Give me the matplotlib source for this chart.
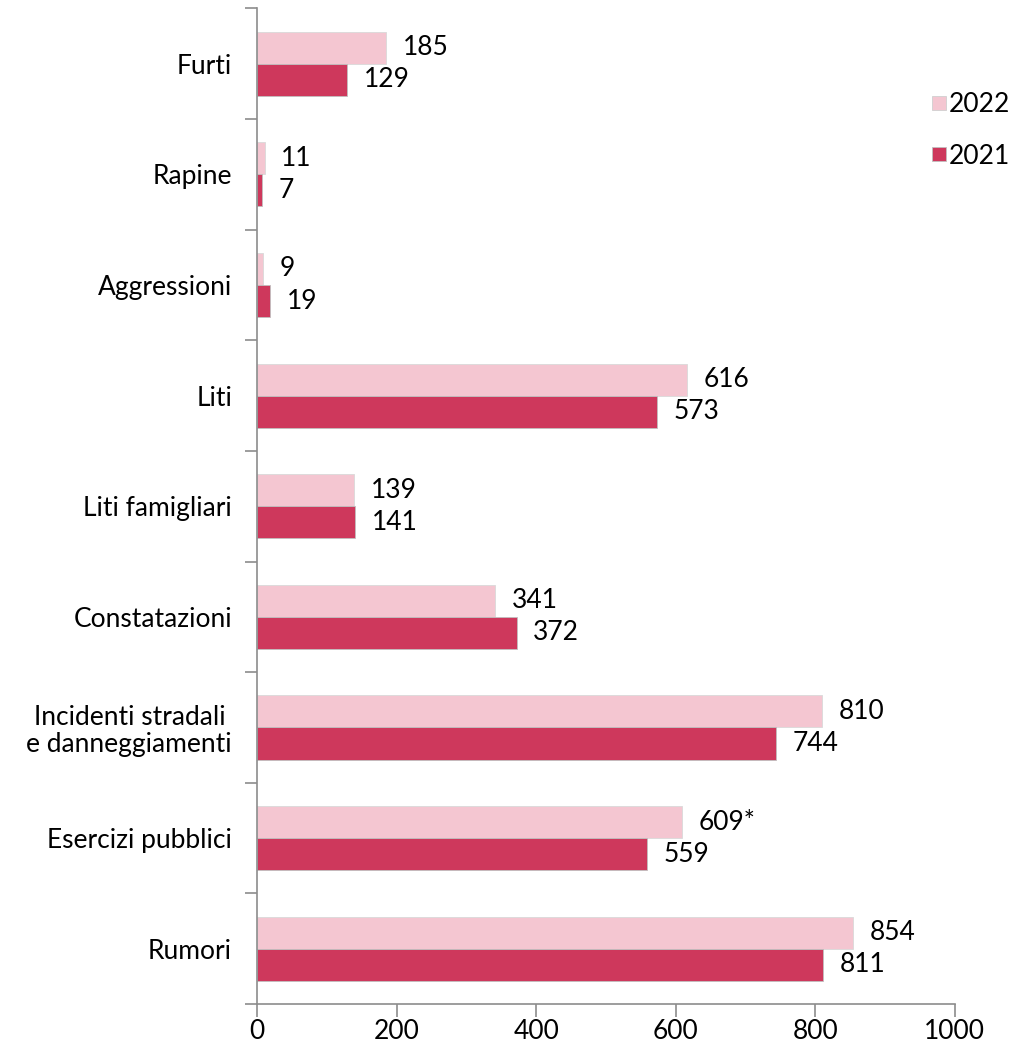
import matplotlib
matplotlib.use("Agg")
import matplotlib.pyplot as plt
import numpy as np
from matplotlib.lines import Line2D

categories = ["Furti", "Rapine", "Aggressioni", "Liti", "Liti famigliari",
              "Constatazioni", "Incidenti stradali \ne danneggiamenti",
              "Esercizi pubblici", "Rumori"]
v2022 = [185, 11, 9, 616, 139, 341, 810, 609, 854]
v2021 = [129, 7, 19, 573, 141, 372, 744, 559, 811]
labels2022 = ["185", "11", "9", "616", "139", "341", "810", "609*", "854"]
labels2021 = [str(v) for v in v2021]
xticks = [0, 200, 400, 600, 800, 1000]

c22 = "#F4C6D1"
c21 = "#CE385C"
gray = "#8C8C8C"
FS = 19

plt.rcParams['font.family'] = ['Lato', 'DejaVu Sans']
fig = plt.figure(figsize=(10.18, 10.47), dpi=100)
ax = fig.add_axes([0.2525, 0.041, 0.6855, 0.951])

n = len(categories)
y = np.arange(n)
h = 0.29
ax.barh(y - h/2, v2022, height=h, color=c22, edgecolor="#d9d9d9", linewidth=0.6)
ax.barh(y + h/2, v2021, height=h, color=c21, edgecolor="#c0c0c0", linewidth=0.6)

for i in range(n):
    ax.annotate(labels2022[i], (v2022[i], y[i] - h/2), xytext=(12, 0),
                textcoords="offset points", va="center", ha="left", fontsize=FS)
    ax.annotate(labels2021[i], (v2021[i], y[i] + h/2), xytext=(12, 0),
                textcoords="offset points", va="center", ha="left", fontsize=FS)

ax.set_ylim(n - 0.5, -0.5)
ax.set_xlim(0, 1000)
ax.set_yticks(y)
ax.set_yticklabels(categories, fontsize=FS, linespacing=1.1)
ax.set_yticks(np.arange(-0.5, n, 1), minor=True)
ax.tick_params(axis="y", which="major", length=0, pad=18)
ax.tick_params(axis="y", which="minor", length=9, color=gray, width=1.2, direction="out")
ax.set_xticks(xticks)
ax.set_xticklabels([str(t) for t in xticks], fontsize=FS)
ax.tick_params(axis="x", length=9, color=gray, width=1.2, direction="out", pad=1.5)

for s in ["top", "right"]:
    ax.spines[s].set_visible(False)
for s in ["left", "bottom"]:
    ax.spines[s].set_color(gray)
    ax.spines[s].set_linewidth(1.2)

handles = [Line2D([], [], marker="s", linestyle="none", markersize=10,
                  markerfacecolor=c22, markeredgecolor="#d0d0d0", markeredgewidth=0.6),
           Line2D([], [], marker="s", linestyle="none", markersize=10,
                  markerfacecolor=c21, markeredgecolor="#c0c0c0", markeredgewidth=0.6)]
fig.legend(handles, ["2022", "2021"], loc="upper left", bbox_to_anchor=(0.896, 0.922),
           frameon=False, fontsize=FS, handletextpad=-0.2, labelspacing=1.0,
           handlelength=1.2, borderaxespad=0)

fig.savefig("out.png", dpi=100)
